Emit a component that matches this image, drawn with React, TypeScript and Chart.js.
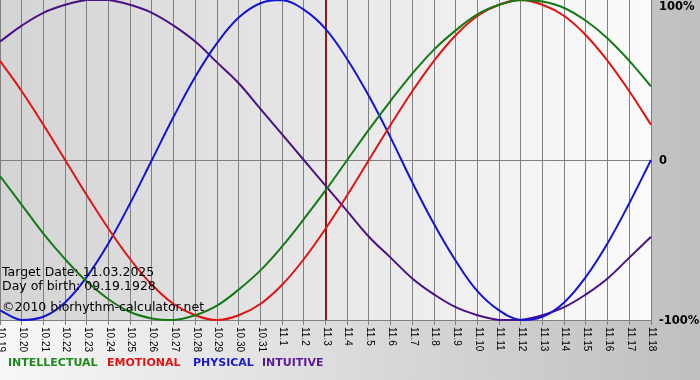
import React, { useEffect, useRef } from "react";
import { Chart, registerables } from "chart.js";

Chart.register(...registerables);

const DATES = [
  "10.19", "10.20", "10.21", "10.22", "10.23", "10.24", "10.25", "10.26", "10.27", "10.28",
  "10.29", "10.30", "10.31", "11.1", "11.2", "11.3", "11.4", "11.5", "11.6", "11.7",
  "11.8", "11.9", "11.10", "11.11", "11.12", "11.13", "11.14", "11.15", "11.16", "11.17", "11.18",
];

const INTELLECTUAL = [
  -0.10, -0.28, -0.46, -0.62, -0.76, -0.87, -0.95, -0.99, -1.0, -0.97,
  -0.91, -0.81, -0.69, -0.54, -0.37, -0.19, 0.0, 0.19, 0.37, 0.54,
  0.69, 0.81, 0.91, 0.97, 1.0, 0.99, 0.95, 0.87, 0.76, 0.62, 0.46,
];

const EMOTIONAL = [
  0.62, 0.43, 0.22, 0.0, -0.22, -0.43, -0.62, -0.78, -0.90, -0.97,
  -1.0, -0.97, -0.90, -0.78, -0.62, -0.43, -0.22, 0.0, 0.22, 0.43,
  0.62, 0.78, 0.90, 0.97, 1.0, 0.97, 0.90, 0.78, 0.62, 0.43, 0.22,
];

const PHYSICAL = [
  -0.94, -1.0, -0.98, -0.89, -0.73, -0.52, -0.27, 0.0, 0.27, 0.52,
  0.73, 0.89, 0.98, 1.0, 0.94, 0.82, 0.63, 0.40, 0.14, -0.14,
  -0.40, -0.63, -0.82, -0.94, -1.0, -0.98, -0.89, -0.73, -0.52, -0.27, 0.0,
];

const INTUITIVE = [
  0.74, 0.84, 0.92, 0.97, 1.0, 1.0, 0.97, 0.92, 0.84, 0.74,
  0.61, 0.48, 0.32, 0.16, 0.0, -0.16, -0.32, -0.48, -0.61, -0.74,
  -0.84, -0.92, -0.97, -1.0, -1.0, -0.97, -0.92, -0.84, -0.74, -0.61, -0.48,
];

const SERIES_NAMES = ["INTELLECTUAL", "EMOTIONAL", "PHYSICAL", "INTUITIVE"];
const SERIES_COLORS = ["#157a15", "#e01414", "#1414d2", "#4a1284"];
const LEGEND_COLORS = ["#1c8a1c", "#e01414", "#1a1ad0", "#5a1a96"];
const LEGEND_X = [8, 107, 193, 262];

const TARGET_LABEL = "11.3";
const Y_TICKS = [1, 0, -1];
const Y_TICK_LABELS = ["100%", "0", "-100%"];
const INFO_LINES = [
  "Target Date: 11.03.2025",
  "Day of birth: 09.19.1928",
  "\u00A92010 biorhythm-calculator.net",
];

const FONT = "'DejaVu Sans', Verdana, sans-serif";

const decorPlugin = {
  id: "decor",
  beforeDraw(chart: any) {
    const { ctx, width, height, chartArea } = chart;
    ctx.save();
    const g = ctx.createLinearGradient(0, 0, width, 0);
    g.addColorStop(0, "#f7f7f7");
    g.addColorStop(1, "#bfbfbf");
    ctx.fillStyle = g;
    ctx.fillRect(0, 0, width, height);
    const g2 = ctx.createLinearGradient(chartArea.left, 0, chartArea.right, 0);
    g2.addColorStop(0, "#d4d4d4");
    g2.addColorStop(1, "#fbfbfb");
    ctx.fillStyle = g2;
    ctx.fillRect(chartArea.left, chartArea.top, chartArea.right - chartArea.left, chartArea.bottom - chartArea.top);
    ctx.restore();
  },
  beforeDatasetsDraw(chart: any) {
    const { ctx, chartArea, scales } = chart;
    const idx = DATES.indexOf(TARGET_LABEL);
    const x = Math.round(scales.x.getPixelForValue(idx));
    ctx.save();
    ctx.strokeStyle = "#8b1c1c";
    ctx.lineWidth = 2;
    ctx.beginPath();
    ctx.moveTo(x, chartArea.top);
    ctx.lineTo(x, chartArea.bottom);
    ctx.stroke();
    ctx.restore();
  },
  afterDraw(chart: any) {
    const { ctx, chartArea, scales } = chart;
    ctx.save();
    // x tick labels, rotated to read top-to-bottom
    ctx.fillStyle = "#000";
    ctx.font = "10px 'Liberation Sans', Arial, sans-serif";
    ctx.textAlign = "left";
    ctx.textBaseline = "middle";
    DATES.forEach((d, i) => {
      const x = scales.x.getPixelForValue(i);
      ctx.save();
      ctx.translate(x + 1, chartArea.bottom + 7);
      ctx.rotate(Math.PI / 2);
      ctx.fillText(d, 0, 0);
      ctx.restore();
    });
    // y labels
    ctx.font = "bold 11.5px " + FONT;
    ctx.textBaseline = "middle";
    Y_TICKS.forEach((v, i) => {
      let y = scales.y.getPixelForValue(v) + 1;
      y = Math.max(y, chartArea.top + 7);
      ctx.fillText(Y_TICK_LABELS[i], chartArea.right + 8, y);
    });
    // info lines
    ctx.font = "12.5px " + FONT;
    ctx.textBaseline = "alphabetic";
    const offs = [44, 30, 9];
    INFO_LINES.forEach((t, i) => {
      ctx.fillText(t, chartArea.left + 2, chartArea.bottom - offs[i]);
    });
    // legend
    ctx.font = "bold 11px " + FONT;
    SERIES_NAMES.forEach((n, i) => {
      ctx.fillStyle = LEGEND_COLORS[i];
      ctx.fillText(n, LEGEND_X[i], chart.height - 14);
    });
    ctx.restore();
  },
};

export default function App() {
  const ref = useRef<HTMLCanvasElement>(null);
  useEffect(() => {
    document.body.style.margin = "0";
    const canvas = ref.current!;
    const series = [INTELLECTUAL, EMOTIONAL, PHYSICAL, INTUITIVE];
    const chart = new Chart(canvas, {
      type: "line",
      data: {
        labels: DATES,
        datasets: series.map((s, i) => ({
          label: SERIES_NAMES[i],
          data: s,
          borderColor: SERIES_COLORS[i],
          backgroundColor: SERIES_COLORS[i],
          borderWidth: 2,
          pointRadius: 0,
          tension: 0.4,
          fill: false,
          clip: false as any,
        })),
      },
      options: {
        animation: false,
        responsive: false,
        layout: { padding: 0 },
        plugins: { legend: { display: false }, tooltip: { enabled: false } },
        scales: {
          x: {
            type: "category",
            offset: false,
            grid: {
              color: "#808080",
              lineWidth: 1,
              drawTicks: true,
              tickLength: 5,
              tickColor: "#808080",
              offset: false,
            },
            border: { display: true, color: "#808080" },
            ticks: { display: false, autoSkip: false },
            afterFit: (s: any) => {
              s.height = 60;
            },
          },
          y: {
            type: "linear",
            position: "right",
            min: -1,
            max: 1,
            grid: {
              color: (c: any) => (c.tick && c.tick.value === 0 ? "#808080" : "rgba(0,0,0,0)"),
              drawTicks: false,
            },
            border: { display: true, color: "#808080" },
            ticks: { display: false, stepSize: 1 },
            afterFit: (s: any) => {
              s.width = 49;
            },
          },
        },
      },
      plugins: [decorPlugin],
    });
    return () => chart.destroy();
  }, []);
  return (
    <div style={{ width: 700, height: 380 }}>
      <canvas ref={ref} width={700} height={380} style={{ display: "block" }} />
    </div>
  );
}
